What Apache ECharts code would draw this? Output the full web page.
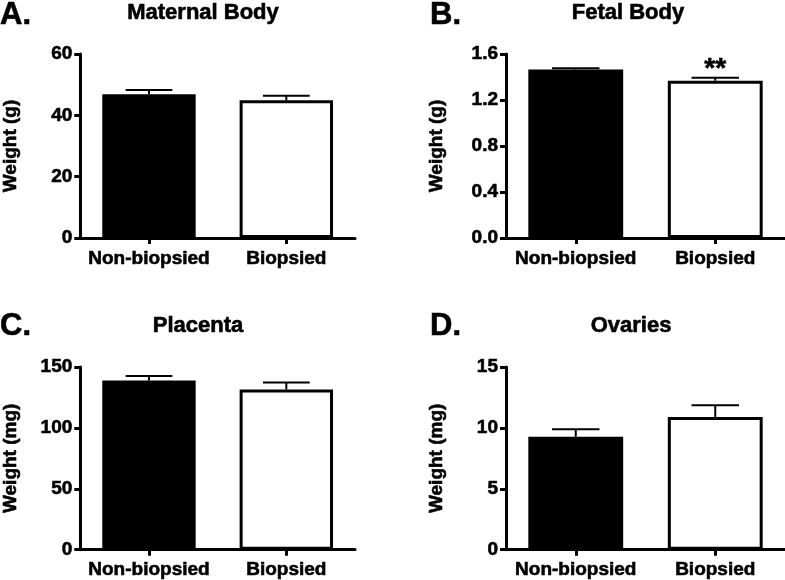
<!DOCTYPE html>
<html>
<head>
<meta charset="utf-8">
<script src="https://cdn.jsdelivr.net/npm/echarts@6/dist/echarts.min.js"></script>
<style>html,body{margin:0;padding:0;background:#fff;}#chart{width:785px;height:580px;}</style>
</head>
<body>
<div id="chart"></div>
<script>
const categories = ['Non-biopsied', 'Biopsied'];
const panelLetters = ['A.', 'B.', 'C.', 'D.'];
const panelTitles = ['Maternal Body', 'Fetal Body', 'Placenta', 'Ovaries'];
const yAxisNames = ['Weight (g)', 'Weight (g)', 'Weight (mg)', 'Weight (mg)'];
const yMax = [60, 1.6, 150, 15];
const yInterval = [20, 0.4, 50, 5];
const yDecimals = [0, 1, 0, 0];

const maternalMean = [46.9, 44.9];
const maternalSem = [1.4, 1.5];
const fetalMean = [1.465, 1.367];
const fetalSem = [0.012, 0.026];
const placentaMean = [138.9, 131.6];
const placentaSem = [3.8, 5.7];
const ovariesMean = [9.27, 10.9];
const ovariesSem = [0.62, 0.96];
const significance = [['', ''], ['', '**'], ['', ''], ['', '']];

const means = [maternalMean, fetalMean, placentaMean, ovariesMean];
const sems = [maternalSem, fetalSem, placentaSem, ovariesSem];
const barFills = ['#000000', '#ffffff'];

const FONT = '"Liberation Sans", Arial, Helvetica, sans-serif';
const BOLD = {color: '#000', fontFamily: FONT, fontWeight: 'bold', textBorderColor: '#000', textBorderWidth: 0.6};
const gridPos = [
  {left: 78, top: 54, width: 277, height: 184},
  {left: 506, top: 54, width: 279, height: 184},
  {left: 78, top: 367, width: 277, height: 185},
  {left: 506, top: 367, width: 279, height: 185}
];
const titleX = [203, 628, 198, 631];
const titleTop = [2, 2, 315, 315];
const letterX = [0, 430, 0, 430];
const letterTop = [0, 0, 311, 311];

const grids = [], xAxes = [], yAxes = [], series = [], titles = [];
for (let p = 0; p < 4; p++) {
  grids.push(Object.assign({containLabel: false}, gridPos[p]));
  titles.push({text: panelLetters[p], left: letterX[p], top: letterTop[p], padding: 0,
    textStyle: Object.assign({}, BOLD, {fontSize: 31})});
  titles.push({text: panelTitles[p], left: titleX[p], top: titleTop[p], textAlign: 'center', padding: 0,
    textStyle: Object.assign({}, BOLD, {fontSize: 22})});
  xAxes.push({
    type: 'category', gridIndex: p, data: categories,
    axisLine: {show: true, lineStyle: {color: '#000', width: 3}},
    axisTick: {show: true, alignWithLabel: true, interval: 0, length: 6, lineStyle: {color: '#000', width: 3}},
    axisLabel: Object.assign({interval: 0, hideOverlap: false, margin: 11, fontSize: 19}, BOLD),
    splitLine: {show: false}
  });
  const dec = yDecimals[p];
  yAxes.push({
    type: 'value', gridIndex: p, min: 0, max: yMax[p], interval: yInterval[p],
    name: yAxisNames[p], nameLocation: 'middle', nameGap: 60, nameRotate: 90,
    nameTextStyle: Object.assign({}, BOLD, {fontSize: 19}),
    axisLine: {show: true, lineStyle: {color: '#000', width: 3}},
    axisTick: {show: true, length: 6, lineStyle: {color: '#000', width: 3}},
    axisLabel: Object.assign({margin: 8, fontSize: 19, formatter: v => Number(v).toFixed(dec)}, BOLD),
    splitLine: {show: false}
  });
  series.push({
    type: 'bar', xAxisIndex: p, yAxisIndex: p, barWidth: '68%',
    data: means[p].map((v, i) => ({value: v, itemStyle: {color: barFills[i], borderColor: '#000', borderWidth: 3}})),
    z: 2
  });
  const sig = significance[p];
  series.push({
    type: 'custom', xAxisIndex: p, yAxisIndex: p, z: 3,
    data: means[p].map((v, i) => [i, v, sems[p][i]]),
    renderItem: function (params, api) {
      const i = api.value(0), m = api.value(1), e = api.value(2);
      const base = api.coord([i, m]);
      const top = api.coord([i, m + e]);
      const half = api.size([1, 0])[0] * 0.17;
      const children = [
        {type: 'line', shape: {x1: base[0], y1: base[1], x2: top[0], y2: top[1]}, style: {stroke: '#000', lineWidth: 2}},
        {type: 'line', shape: {x1: top[0] - half, y1: top[1], x2: top[0] + half, y2: top[1]}, style: {stroke: '#000', lineWidth: 2}}
      ];
      const s = sig[params.dataIndex];
      if (s) {
        children.push({type: 'text', x: top[0], y: top[1] + 5,
          style: {text: s, fill: '#000', stroke: '#000', lineWidth: 0.6, font: 'bold 28px ' + FONT, textAlign: 'center', textVerticalAlign: 'bottom'}});
      }
      return {type: 'group', children: children};
    }
  });
}

const chart = echarts.init(document.getElementById('chart'), null, {renderer: 'canvas'});
chart.setOption({
  animation: false,
  backgroundColor: '#fff',
  title: titles,
  grid: grids,
  xAxis: xAxes,
  yAxis: yAxes,
  series: series
});
</script>
</body>
</html>
